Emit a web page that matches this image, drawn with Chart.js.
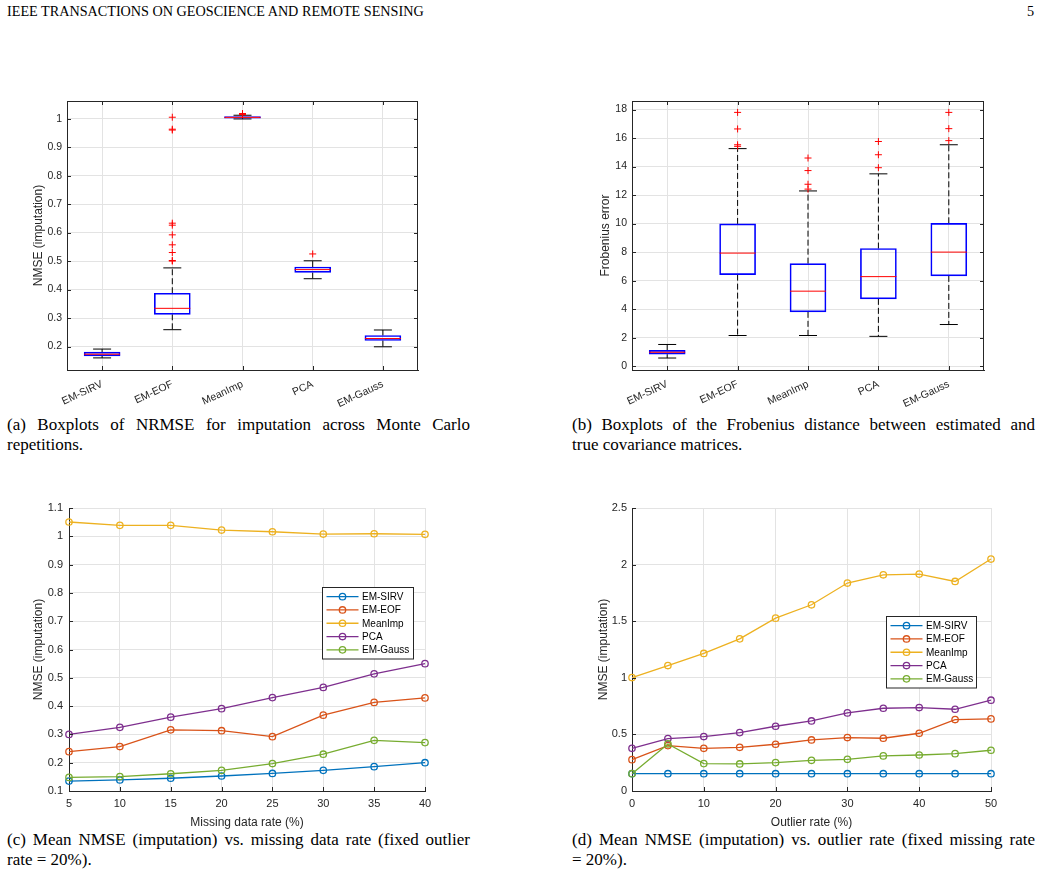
<!DOCTYPE html>
<html>
<head>
<meta charset="utf-8">
<script src="https://cdn.jsdelivr.net/npm/chart.js@4.4.0/dist/chart.umd.min.js"></script>
<style>
  html, body { margin: 0; padding: 0; background: #fff; }
  body { width: 1041px; height: 876px; position: relative; overflow: hidden; font-family: "Liberation Serif", serif; color: #000; }
  canvas { position: absolute; }
  .hdr { position: absolute; top: 3px; font-size: 14.2px; line-height: 16px; }
  .cap { position: absolute; width: 463px; font-size: 17px; line-height: 20px; }
  .cap .l1 { display: block; text-align: justify; text-align-last: justify; white-space: nowrap; }
</style>
</head>
<body>
<div class="hdr" style="left:7px">IEEE TRANSACTIONS ON GEOSCIENCE AND REMOTE SENSING</div>
<div class="hdr" style="left:1027px">5</div>

<canvas id="chartA"></canvas>
<canvas id="chartB"></canvas>
<canvas id="chartC"></canvas>
<canvas id="chartD"></canvas>

<div class="cap" style="left:7px;top:415px"><span class="l1">(a) Boxplots of NRMSE for imputation across Monte Carlo</span>repetitions.</div>
<div class="cap" style="left:572px;top:415px"><span class="l1">(b) Boxplots of the Frobenius distance between estimated and</span>true covariance matrices.</div>
<div class="cap" style="left:7px;top:830px"><span class="l1">(c) Mean NMSE (imputation) vs. missing data rate (fixed outlier</span>rate = 20%).</div>
<div class="cap" style="left:572px;top:830px"><span class="l1">(d) Mean NMSE (imputation) vs. outlier rate (fixed missing rate</span>= 20%).</div>

<script>
// ---- data ----
const methods = ['EM-SIRV', 'EM-EOF', 'MeanImp', 'PCA', 'EM-Gauss'];

// (a) NMSE boxplots
const nmseLow  = [0.160, 0.259, 0.999, 0.438, 0.199];
const nmseQ1   = [0.167, 0.313, 1.002, 0.460, 0.221];
const nmseMed  = [0.173, 0.334, 1.0045, 0.470, 0.228];
const nmseQ3   = [0.180, 0.387, 1.007, 0.479, 0.2385];
const nmseHigh = [0.191, 0.476, 1.012, 0.501, 0.258];
const nmseOut  = [[], [1.005, 0.963, 0.960, 0.633, 0.626, 0.592, 0.557, 0.530, 0.502, 0.500], [1.014, 1.016, 1.018], [0.525], []];
const nmseTicks = [0.2, 0.3, 0.4, 0.5, 0.6, 0.7, 0.8, 0.9, 1];

// (b) Frobenius error boxplots
const frobLow  = [0.57, 2.15, 2.15, 2.09, 2.92];
const frobQ1   = [0.84, 6.42, 3.81, 4.72, 6.33];
const frobMed  = [0.975, 7.93, 5.26, 6.28, 8.0];
const frobQ3   = [1.11, 9.975, 7.19, 8.25, 10.02];
const frobHigh = [1.52, 15.26, 12.29, 13.49, 15.53];
const frobOut  = [[], [17.8, 16.64, 15.53, 15.42], [14.6, 13.72, 12.76, 12.42], [15.76, 14.83, 13.92], [17.8, 16.66, 15.82]];
const frobTicks = [0, 2, 4, 6, 8, 10, 12, 14, 16, 18];

// (c) NMSE vs missing data rate
const missingRates = [5, 10, 15, 20, 25, 30, 35, 40];
const missSirv  = [0.135, 0.139, 0.145, 0.153, 0.162, 0.173, 0.186, 0.200];
const missEof   = [0.239, 0.257, 0.316, 0.313, 0.292, 0.368, 0.413, 0.429];
const missMean  = [1.0505, 1.0387, 1.0387, 1.022, 1.016, 1.008, 1.009, 1.007];
const missPca   = [0.300, 0.325, 0.361, 0.391, 0.430, 0.466, 0.514, 0.550];
const missGauss = [0.148, 0.151, 0.161, 0.173, 0.197, 0.230, 0.279, 0.271];
const missTicksY = [0.1, 0.2, 0.3, 0.4, 0.5, 0.6, 0.7, 0.8, 0.9, 1, 1.1];

// (d) NMSE vs outlier rate
const outlierRates = [0, 5, 10, 15, 20, 25, 30, 35, 40, 45, 50];
const outSirv  = [0.153, 0.153, 0.153, 0.153, 0.153, 0.153, 0.153, 0.153, 0.153, 0.153, 0.153];
const outEof   = [0.277, 0.401, 0.377, 0.386, 0.413, 0.451, 0.472, 0.466, 0.510, 0.631, 0.637];
const outMean  = [1.002, 1.108, 1.215, 1.344, 1.527, 1.645, 1.837, 1.910, 1.916, 1.851, 2.049];
const outPca   = [0.377, 0.463, 0.481, 0.516, 0.572, 0.619, 0.690, 0.731, 0.737, 0.722, 0.802];
const outGauss = [0.153, 0.416, 0.242, 0.239, 0.251, 0.271, 0.280, 0.310, 0.318, 0.330, 0.360];
const outTicksX = [0, 10, 20, 30, 40, 50];
const outTicksY = [0, 0.5, 1, 1.5, 2, 2.5];

// ---- styles ----
const SANS = '"Liberation Sans", Arial, sans-serif';
const AXIS = '#262626';
const GRID = '#e3e3e3';
const COLORS = ['#0072BD', '#D95319', '#EDB120', '#7E2F8E', '#77AC30'];
const BOX_W = 36;
const TL = 4;

// inward MATLAB-style ticks and optional box
const matlabFrame = {
  id: 'matlabFrame',
  afterDraw(chart, args, opts) {
    const {ctx, chartArea, scales} = chart;
    const {left, right, top, bottom} = chartArea;
    const x = scales.x, y = scales.y;
    ctx.save();
    ctx.strokeStyle = AXIS;
    ctx.lineWidth = 1;
    ctx.beginPath();
    x.ticks.forEach(t => {
      const px = Math.round(x.getPixelForValue(t.value)) + 0.5;
      ctx.moveTo(px, bottom); ctx.lineTo(px, bottom - TL);
      if (opts.box) { ctx.moveTo(px, top); ctx.lineTo(px, top + TL); }
    });
    y.ticks.forEach(t => {
      const py = Math.round(y.getPixelForValue(t.value)) + 0.5;
      ctx.moveTo(left, py); ctx.lineTo(left + TL, py);
      if (opts.box) { ctx.moveTo(right, py); ctx.lineTo(right - TL, py); }
    });
    ctx.stroke();
    if (opts.box) {
      ctx.strokeRect(Math.round(left) + 0.5, Math.round(top) + 0.5,
        Math.round(right - left) - 1, Math.round(bottom - top));
    }
    ctx.restore();
  }
};

// legend box drawn inside the plot, like MATLAB's
const matlabLegend = {
  id: 'matlabLegend',
  afterDatasetsDraw(chart, args, opts) {
    if (!opts.show) return;
    const {ctx, chartArea} = chart;
    const items = chart.data.datasets;
    const rowH = 13.3, pad = 2.5;
    const w = opts.width, h = items.length * rowH + 2 * pad;
    const x0 = Math.round(chartArea.right - opts.right - w) + 0.5;
    const y0 = Math.round(chartArea.top + opts.top) + 0.5;
    ctx.save();
    ctx.fillStyle = '#fff';
    ctx.fillRect(x0, y0, w, h);
    ctx.strokeStyle = AXIS;
    ctx.lineWidth = 1;
    ctx.strokeRect(x0, y0, w, h);
    ctx.font = '10px ' + SANS;
    ctx.textBaseline = 'middle';
    items.forEach((ds, i) => {
      const yy = y0 + pad + rowH * (i + 0.5);
      ctx.strokeStyle = ds.borderColor;
      ctx.lineWidth = 1.3;
      ctx.beginPath();
      ctx.moveTo(x0 + 4, yy); ctx.lineTo(x0 + 36, yy);
      ctx.stroke();
      ctx.beginPath();
      ctx.arc(x0 + 20, yy, 3.2, 0, Math.PI * 2);
      ctx.stroke();
      ctx.fillStyle = '#000';
      ctx.fillText(ds.label, x0 + 39.5, yy + 0.5);
    });
    ctx.restore();
  }
};

function place(id, area, yW, xH) {
  const c = document.getElementById(id);
  const padT = 10, padR = 12;
  const left = area.l - yW, top = area.t - padT;
  c.width = area.r + padR - left;
  c.height = area.b + xH - top;
  c.style.left = left + 'px';
  c.style.top = top + 'px';
  return c;
}

function fmt(v) { return String(Math.round(v * 100) / 100); }

function yAxis(title, ticks, min, max, yW, size, pad) {
  return {
    type: 'linear', min: min, max: max,
    afterBuildTicks: s => { s.ticks = ticks.map(v => ({value: v})); },
    afterFit: s => { s.width = yW; s.paddingTop = 0; s.paddingBottom = 0; },
    grid: {color: GRID, drawTicks: false},
    border: {color: AXIS, width: 1},
    ticks: {color: AXIS, font: {family: SANS, size: size}, padding: pad, callback: fmt},
    title: {display: true, text: title, color: AXIS, font: {family: SANS, size: 12}, padding: {top: 0, bottom: 0}}
  };
}

function baseOptions(scales, frameOpts, legendOpts) {
  return {
    responsive: false,
    animation: false,
    events: [],
    layout: {padding: {top: 10, right: 12, left: 0, bottom: 0}},
    scales: scales,
    plugins: {
      legend: {display: false},
      tooltip: {enabled: false},
      matlabFrame: frameOpts,
      matlabLegend: legendOpts
    }
  };
}

function boxDatasets(low, q1, med, q3, high, out) {
  const idx = methods.map((m, i) => i + 1);
  const whisk = [];
  idx.forEach((x, i) => {
    whisk.push({x: x, y: q3[i]}, {x: x, y: high[i]}, {x: x, y: null});
    whisk.push({x: x, y: q1[i]}, {x: x, y: low[i]}, {x: x, y: null});
  });
  const caps = [];
  idx.forEach((x, i) => { caps.push({x: x, y: low[i]}, {x: x, y: high[i]}); });
  const outs = [];
  idx.forEach((x, i) => { out[i].forEach(v => outs.push({x: x, y: v})); });
  return [
    {type: 'scatter', data: outs, pointStyle: 'cross', pointRadius: 3.5,
      pointBorderColor: '#ff0000', pointBorderWidth: 1, order: 0, clip: false},
    {type: 'scatter', data: idx.map((x, i) => ({x: x, y: med[i]})), pointStyle: 'line',
      pointRadius: BOX_W / 2, pointBorderColor: '#ff0000', pointBorderWidth: 1, order: 1},
    {type: 'bar', data: idx.map((x, i) => ({x: x, y: [q1[i], q3[i]]})), barThickness: BOX_W,
      borderColor: '#0000ff', borderWidth: 1, borderSkipped: false,
      backgroundColor: 'rgba(0,0,0,0)', order: 2},
    {type: 'scatter', data: caps, pointStyle: 'line', pointRadius: BOX_W / 4,
      pointBorderColor: '#000', pointBorderWidth: 1, order: 3},
    {type: 'line', data: whisk, borderColor: '#000', borderWidth: 1, borderDash: [6, 3],
      pointRadius: 0, spanGaps: false, order: 4}
  ];
}

function boxXAxis(xH) {
  return {
    type: 'linear', min: 0.5, max: 5.5, offset: false,
    afterBuildTicks: s => { s.ticks = methods.map((m, i) => ({value: i + 1})); },
    afterFit: s => { s.height = xH; s.paddingLeft = 0; s.paddingRight = 0; },
    grid: {color: GRID, drawTicks: false, offset: false},
    border: {color: AXIS, width: 1},
    ticks: {color: AXIS, font: {family: SANS, size: 10.5}, padding: 8, autoSkip: false,
      minRotation: 25, maxRotation: 25, callback: v => methods[v - 1]}
  };
}

function lineXAxis(title, ticks, min, max, xH) {
  return {
    type: 'linear', min: min, max: max,
    afterBuildTicks: s => { s.ticks = ticks.map(v => ({value: v})); },
    afterFit: s => { s.height = xH; s.paddingLeft = 0; s.paddingRight = 0; },
    grid: {color: GRID, drawTicks: false},
    border: {color: AXIS, width: 1},
    ticks: {color: AXIS, font: {family: SANS, size: 11}, padding: 6, autoSkip: false, maxRotation: 0, callback: fmt},
    title: {display: true, text: title, color: AXIS, font: {family: SANS, size: 12}, padding: {top: 0, bottom: 0}}
  };
}

function lineSets(xs, series) {
  return series.map((ys, i) => ({
    type: 'line',
    label: methods[i],
    data: xs.map((x, j) => ({x: x, y: ys[j]})),
    borderColor: COLORS[i],
    backgroundColor: COLORS[i],
    borderWidth: 1.3,
    pointRadius: 3.2,
    pointBorderWidth: 1.3,
    pointBackgroundColor: 'rgba(0,0,0,0)',
    pointBorderColor: COLORS[i],
    tension: 0,
    clip: false,
    order: series.length - i
  }));
}

// (a)
const areaA = {l: 67, t: 92, r: 425, b: 370};
new Chart(place('chartA', areaA, 36, 45), {
  type: 'scatter',
  data: {datasets: boxDatasets(nmseLow, nmseQ1, nmseMed, nmseQ3, nmseHigh, nmseOut)},
  options: baseOptions({
    x: boxXAxis(45),
    y: yAxis('NMSE (imputation)', nmseTicks, 0.1175, 1.062, 36, 10.5, 5)
  }, {box: true}, {show: false}),
  plugins: [matlabFrame, matlabLegend]
});

// (b)
const areaB = {l: 632, t: 92, r: 991, b: 370};
new Chart(place('chartB', areaB, 34, 45), {
  type: 'scatter',
  data: {datasets: boxDatasets(frobLow, frobQ1, frobMed, frobQ3, frobHigh, frobOut)},
  options: baseOptions({
    x: boxXAxis(45),
    y: yAxis('Frobenius error', frobTicks, -0.27, 18.6, 34, 10.5, 5)
  }, {box: true}, {show: false}),
  plugins: [matlabFrame, matlabLegend]
});

// (c)
const areaC = {l: 69, t: 508, r: 425, b: 791};
new Chart(place('chartC', areaC, 38, 39), {
  type: 'line',
  data: {datasets: lineSets(missingRates, [missSirv, missEof, missMean, missPca, missGauss])},
  options: baseOptions({
    x: lineXAxis('Missing data rate (%)', missingRates, 5, 40, 39),
    y: yAxis('NMSE (imputation)', missTicksY, 0.1, 1.1, 38, 11, 6)
  }, {box: false}, {show: true, right: 12, top: 79, width: 91}),
  plugins: [matlabFrame, matlabLegend]
});

// (d)
const areaD = {l: 632, t: 508, r: 991, b: 791};
new Chart(place('chartD', areaD, 36, 39), {
  type: 'line',
  data: {datasets: lineSets(outlierRates, [outSirv, outEof, outMean, outPca, outGauss])},
  options: baseOptions({
    x: lineXAxis('Outlier rate (%)', outTicksX, 0, 50, 39),
    y: yAxis('NMSE (imputation)', outTicksY, 0, 2.5, 36, 11, 5)
  }, {box: false}, {show: true, right: 15, top: 108, width: 90}),
  plugins: [matlabFrame, matlabLegend]
});
</script>
</body>
</html>
